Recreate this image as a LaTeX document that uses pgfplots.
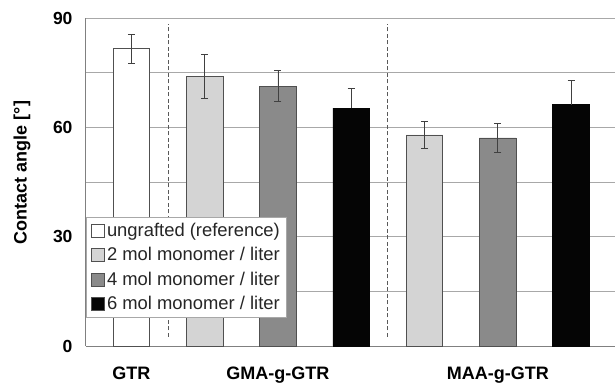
\documentclass[border=0pt]{standalone}
\usepackage{pgfplots}
\pgfplotsset{compat=1.18}
\usepackage{fontspec}
\setmainfont{Liberation Sans}
\definecolor{lightbar}{HTML}{D4D4D4}
\definecolor{midbar}{HTML}{8A8A8A}
\definecolor{darkbar}{HTML}{050505}
\definecolor{gridc}{HTML}{A8A8A8}
\definecolor{edgec}{HTML}{505050}
\begin{document}
\begin{tikzpicture}
\useasboundingbox (-86pt,-38pt) rectangle (529pt,346pt);
\begin{axis}[
  scale only axis, width=529pt, height=328pt,
  xmin=-0.62, xmax=6.6, ymin=0, ymax=90,
  axis x line*=bottom, axis y line*=left,
  axis line style={-, draw=gray, line width=1pt},
  ytick={0,15,30,45,60,75,90},
  yticklabels={0,,30,,60,,90},
  ymajorgrids, grid style={gridc, line width=0.9pt},
  major tick length=0pt,
  xtick={0,2,5}, xticklabels={GTR,GMA-g-GTR,MAA-g-GTR},
  xticklabel style={font=\fontsize{18}{20}\selectfont\bfseries, anchor=north, yshift=-17pt},
  yticklabel style={font=\fontsize{17.5}{20}\selectfont\bfseries, xshift=-10pt},
  ylabel={Contact angle [°]},
  every axis y label/.style={at={(axis description cs:-0.121,0.529)}, rotate=90, anchor=center, font=\fontsize{18}{20}\selectfont\bfseries},
  ybar, bar shift=0pt, bar width=0.5,
  legend cell align=left,
  legend image code/.code={\draw[#1, draw=edgec, line width=0.6pt] (0pt,-6.5pt) rectangle (13pt,6.5pt);},
  legend style={at={(0,0.087)}, anchor=south west, draw=gridc, line width=0.8pt, fill=white,
    font=\fontsize{18.4}{20}\selectfont, text=black!85, row sep=5.5pt, inner xsep=5pt, inner ysep=4pt,
    /tikz/every even column/.append style={column sep=2pt}},
  error bars/y dir=both, error bars/y explicit,
  error bars/error bar style={draw=black!75, line width=0.9pt},
  error bars/error mark options={rotate=90, mark size=3.5pt, draw=black!75, line width=0.9pt},
]
\addplot[forget plot, draw=black!65, dash pattern=on 4pt off 2.5pt, line width=1pt, no markers, sharp plot, error bars/y dir=none] coordinates {(0.5,2.5) (0.5,88.3)};
\addplot[forget plot, draw=black!65, dash pattern=on 4pt off 2.5pt, line width=1pt, no markers, sharp plot, error bars/y dir=none] coordinates {(3.5,2.5) (3.5,88.3)};
\addplot[fill=white, draw=edgec, line width=0.8pt] coordinates {(0,81.6) +- (0,4.0)};
\addplot[fill=lightbar, draw=edgec, line width=0.8pt] coordinates {(1,73.9) +- (0,6.0) (4,57.9) +- (0,3.8)};
\addplot[fill=midbar, draw=edgec, line width=0.8pt] coordinates {(2,71.3) +- (0,4.2) (5,57.1) +- (0,4.0)};
\addplot[fill=darkbar, draw=darkbar, line width=0.8pt, error bars/y dir=plus] coordinates {(3,65.3) +- (0,5.3) (6,66.2) +- (0,6.7)};
\legend{ungrafted (reference), 2 mol monomer / liter, 4 mol monomer / liter, 6 mol monomer / liter}
\end{axis}
\end{tikzpicture}
\end{document}
